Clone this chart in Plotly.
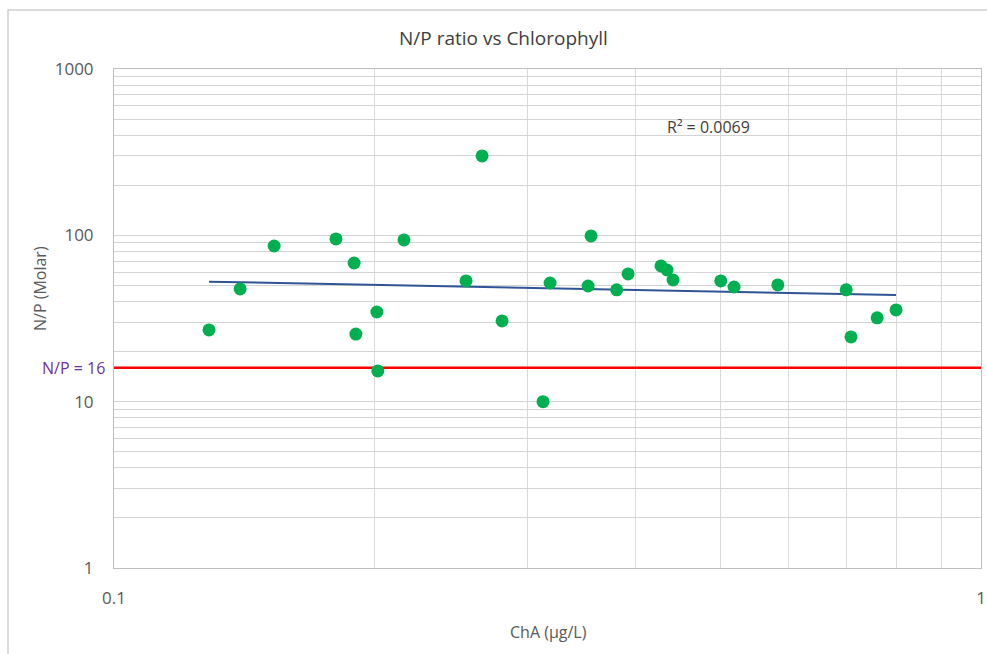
import numpy as np
import plotly.graph_objects as go

# Data
cha = [0.1287, 0.1398, 0.1530, 0.1803, 0.1892, 0.1901, 0.2010, 0.2015, 0.2160,
       0.2547, 0.2658, 0.2803, 0.3125, 0.3184, 0.3522, 0.3550, 0.3800, 0.3917,
       0.4275, 0.4344, 0.4414, 0.5010, 0.5190, 0.5830, 0.6990, 0.7080, 0.7590, 0.7980]
np_ratio = [27.0, 47.6, 86.3, 95.1, 68.2, 25.5, 34.6, 15.3, 93.8,
            53.2, 300.0, 30.6, 10.0, 51.7, 49.6, 99.2, 47.0, 58.6,
            65.5, 61.9, 53.9, 53.2, 48.9, 50.3, 47.0, 24.5, 31.9, 35.6]

redfield = 16
x_limits = [0.1, 1.0]

x_tickvals = [0.1, 0.2, 0.3, 0.4, 0.5, 0.6, 0.7, 0.8, 0.9, 1.0]
x_ticktext = ["0.1", "", "", "", "", "", "", "", "", "1"]
y_tickvals = [1, 2, 3, 4, 5, 6, 7, 8, 9,
              10, 20, 30, 40, 50, 60, 70, 80, 90,
              100, 200, 300, 400, 500, 600, 700, 800, 900, 1000]
y_ticktext = ["1"] + [""] * 8 + ["10"] + [""] * 8 + ["100"] + [""] * 8 + ["1000"]

# Power trendline (least squares in log-log space), as Excel does
lx = np.log10(cha)
ly = np.log10(np_ratio)
b, a = np.polyfit(lx, ly, 1)
trend_x = np.array([min(cha), max(cha)])
trend_y = 10 ** (a + b * np.log10(trend_x))

txt = "#595959"
font = "Open Sans"

fig = go.Figure()
fig.add_trace(go.Scatter(x=x_limits, y=[redfield, redfield], mode="lines",
                         line=dict(color="#FF0000", width=2.5), hoverinfo="skip"))
fig.add_trace(go.Scatter(x=trend_x, y=trend_y, mode="lines",
                         line=dict(color="#2F5597", width=2)))
fig.add_trace(go.Scatter(x=cha, y=np_ratio, mode="markers",
                         marker=dict(color="#00B050", size=13)))

W, H = 987, 654
L, R, T, B = 114, 6, 69, 86
pw, ph = W - L - R, H - T - B

def px(x):
    return (x - L) / pw

def py(y):
    return (H - B - y) / ph

def ann(text, x, y, size, color, xanchor="center", **kw):
    return dict(text=text, xref="paper", yref="paper", x=px(x), y=py(y),
                xanchor=xanchor, yanchor="middle", showarrow=False,
                font=dict(size=size, color=color, family=font), **kw)

fig.update_layout(
    width=W, height=H,
    margin=dict(l=L, r=R, t=T, b=B, autoexpand=False),
    paper_bgcolor="white", plot_bgcolor="white",
    showlegend=False,
    font=dict(family=font, color=txt, size=16),
    xaxis=dict(type="log", range=[-1, 0], tickvals=x_tickvals, ticktext=x_ticktext,
               automargin=False,
               showgrid=True, gridcolor="#D9D9D9", gridwidth=1,
               showline=True, linecolor="#BFBFBF", linewidth=1, mirror=True,
               ticks="", ticklabelstandoff=15, tickfont=dict(size=17, color=txt),
               zeroline=False),
    yaxis=dict(type="log", range=[0, 3], tickvals=y_tickvals, ticktext=y_ticktext,
               automargin=False,
               showgrid=True, gridcolor="#D4D4D4", gridwidth=1.3,
               showline=True, linecolor="#BFBFBF", linewidth=1, mirror=True,
               ticks="", ticklabelstandoff=16, tickfont=dict(size=17, color=txt),
               zeroline=False),
    shapes=[dict(type="rect", xref="paper", yref="paper",
                 x0=px(8), x1=px(1000), y0=py(670), y1=py(10),
                 line=dict(color="#D0D0D0", width=1.5), layer="below")],
    annotations=[
        ann("N/P ratio vs Chlorophyll", 503, 38, 19, "#404040"),
        ann("ChA (µg/L)", 548, 632, 16, txt),
        ann("N/P (Molar)", 40, 289, 16, txt, textangle=-90),
        ann("N/P = 16", 107, 368, 16, "#7030A0", xanchor="right"),
        ann("R² = 0.0069", 708, 127, 16, "#404040"),
    ],
)

fig.write_html("out.html")
